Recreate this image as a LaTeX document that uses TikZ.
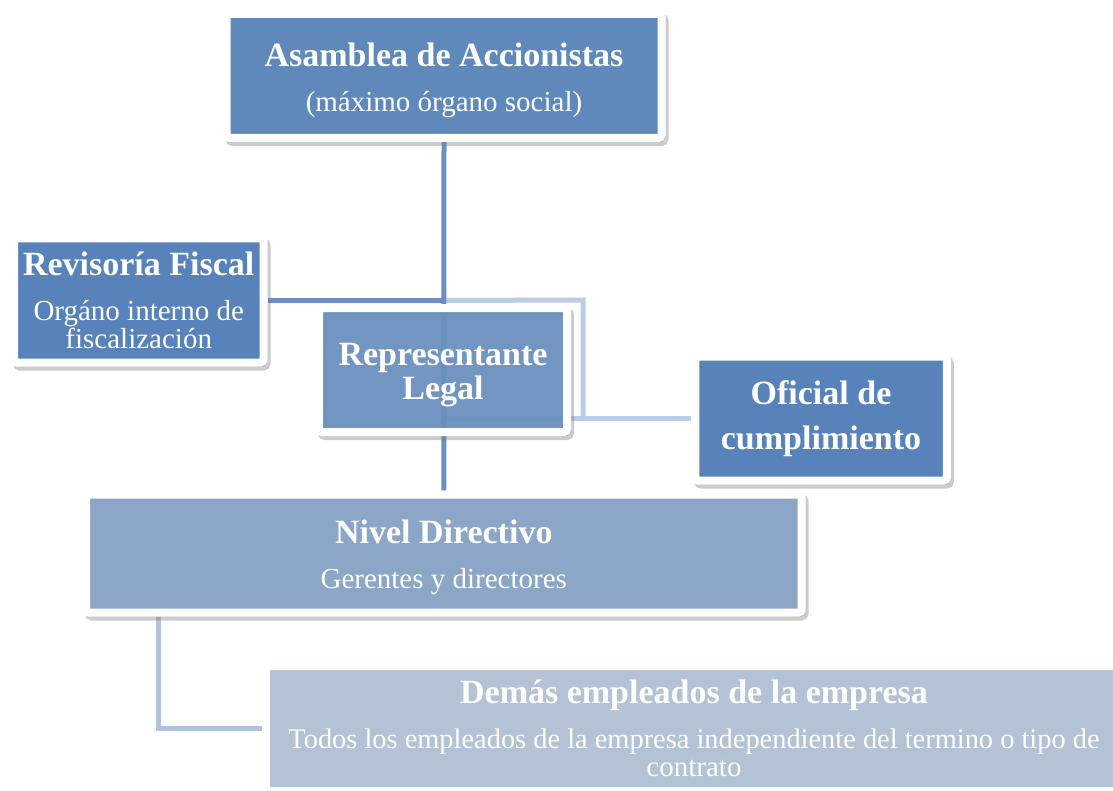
\documentclass[tikz,border=0pt]{standalone}
\usepackage{fontspec}
\setmainfont{Liberation Serif}
\usetikzlibrary{backgrounds}

\definecolor{azulAsamblea}{HTML}{6089BB}
\definecolor{azulFiscal}{HTML}{5782BA}
\definecolor{azulLegal}{HTML}{6890C0}
\definecolor{azulOficial}{HTML}{5883BA}
\definecolor{azulDirectivo}{HTML}{8BA6C6}
\definecolor{azulEmpleados}{HTML}{B3C2D5}
\definecolor{lineaOscura}{HTML}{6C8EC3}
\definecolor{lineaClara}{HTML}{BACDE5}
\definecolor{lineaGris}{HTML}{B3C2DC}

\newcommand{\titulo}[1]{{\bfseries #1}}
\newcommand{\detalle}[1]{{\fontsize{14.5}{14}\selectfont #1}}
\newcommand{\alto}{\rule{0pt}{16pt}}

\begin{document}
\begin{tikzpicture}[x=0.5pt, y=-0.5pt,
    caja/.style ={rectangle, draw=white, line width=4pt, rounded corners=1.5pt,
      inner sep=0pt, text=white, align=center,
      font=\fontsize{17}{17}\selectfont,
      preaction={draw=black!50, fill=black!50, opacity=0.4, line width=4pt,
        transform canvas={shift={(1.5pt,-2pt)}}}},
    conector/.style ={line width=2.5pt, draw=lineaOscura}]
   \useasboundingbox (0,0) rectangle (1113,791);
   \clip (0,0) rectangle (1113,791);

   \node[caja, fill=azulAsamblea, minimum width=217.5pt, minimum height=62pt] (asamblea) at (444,76)
     {\alto\titulo{Asamblea de Accionistas}\\[5.5pt]\detalle{(máximo órgano social)}};
   \node[caja, fill=azulFiscal, minimum width=124.75pt, minimum height=62pt] (fiscal) at (138.75,300.5)
     {\titulo{Revisoría Fiscal}\\[5.5pt]\detalle{Orgáno interno de}\\[-3pt]\detalle{fiscalización}};
   \node[caja, fill=azulLegal, fill opacity=0.9, text opacity=1, minimum width=124pt, minimum height=62pt] (legal) at (443,370)
     {\alto\titulo{Representante}\\\titulo{Legal}};
   \node[caja, fill=azulOficial, minimum width=125.75pt, minimum height=62pt] (oficial) at (821,418.5)
     {\titulo{Oficial de}\\[5.5pt]\titulo{cumplimiento}};
   \node[caja, fill=azulDirectivo, minimum width=357.75pt, minimum height=59pt] (directivo) at (443.75,553.5)
     {\alto\titulo{Nivel Directivo}\\[5.5pt]\detalle{Gerentes y directores}};
   \node[caja, fill=azulEmpleados, minimum width=428pt, minimum height=62.5pt] (empleados) at (694,728.5)
     {\titulo{Demás empleados de la empresa}\\[5.5pt]{\fontsize{14.2}{14}\selectfont Todos los empleados de la empresa independiente del termino o tipo de}\\[-3pt]\detalle{contrato}};

   \begin{scope}[on background layer]
     \coordinate (cruce) at (asamblea.south |- fiscal.east);
     \coordinate (codo) at (583,300);
     \coordinate (bajada) at (158,612);
     \draw[conector, draw=lineaClara] (cruce) -- (codo) |- (oficial.west);
     \draw[conector, draw=lineaClara] (asamblea.south |- oficial.west) to (oficial.west);
     \draw[conector] (asamblea.south) to (directivo.north);
     \draw[conector] (cruce) to (fiscal.east);
     \draw[conector, draw=lineaGris] (bajada) |- (empleados.west);
   \end{scope}
 \end{tikzpicture}
\end{document}
